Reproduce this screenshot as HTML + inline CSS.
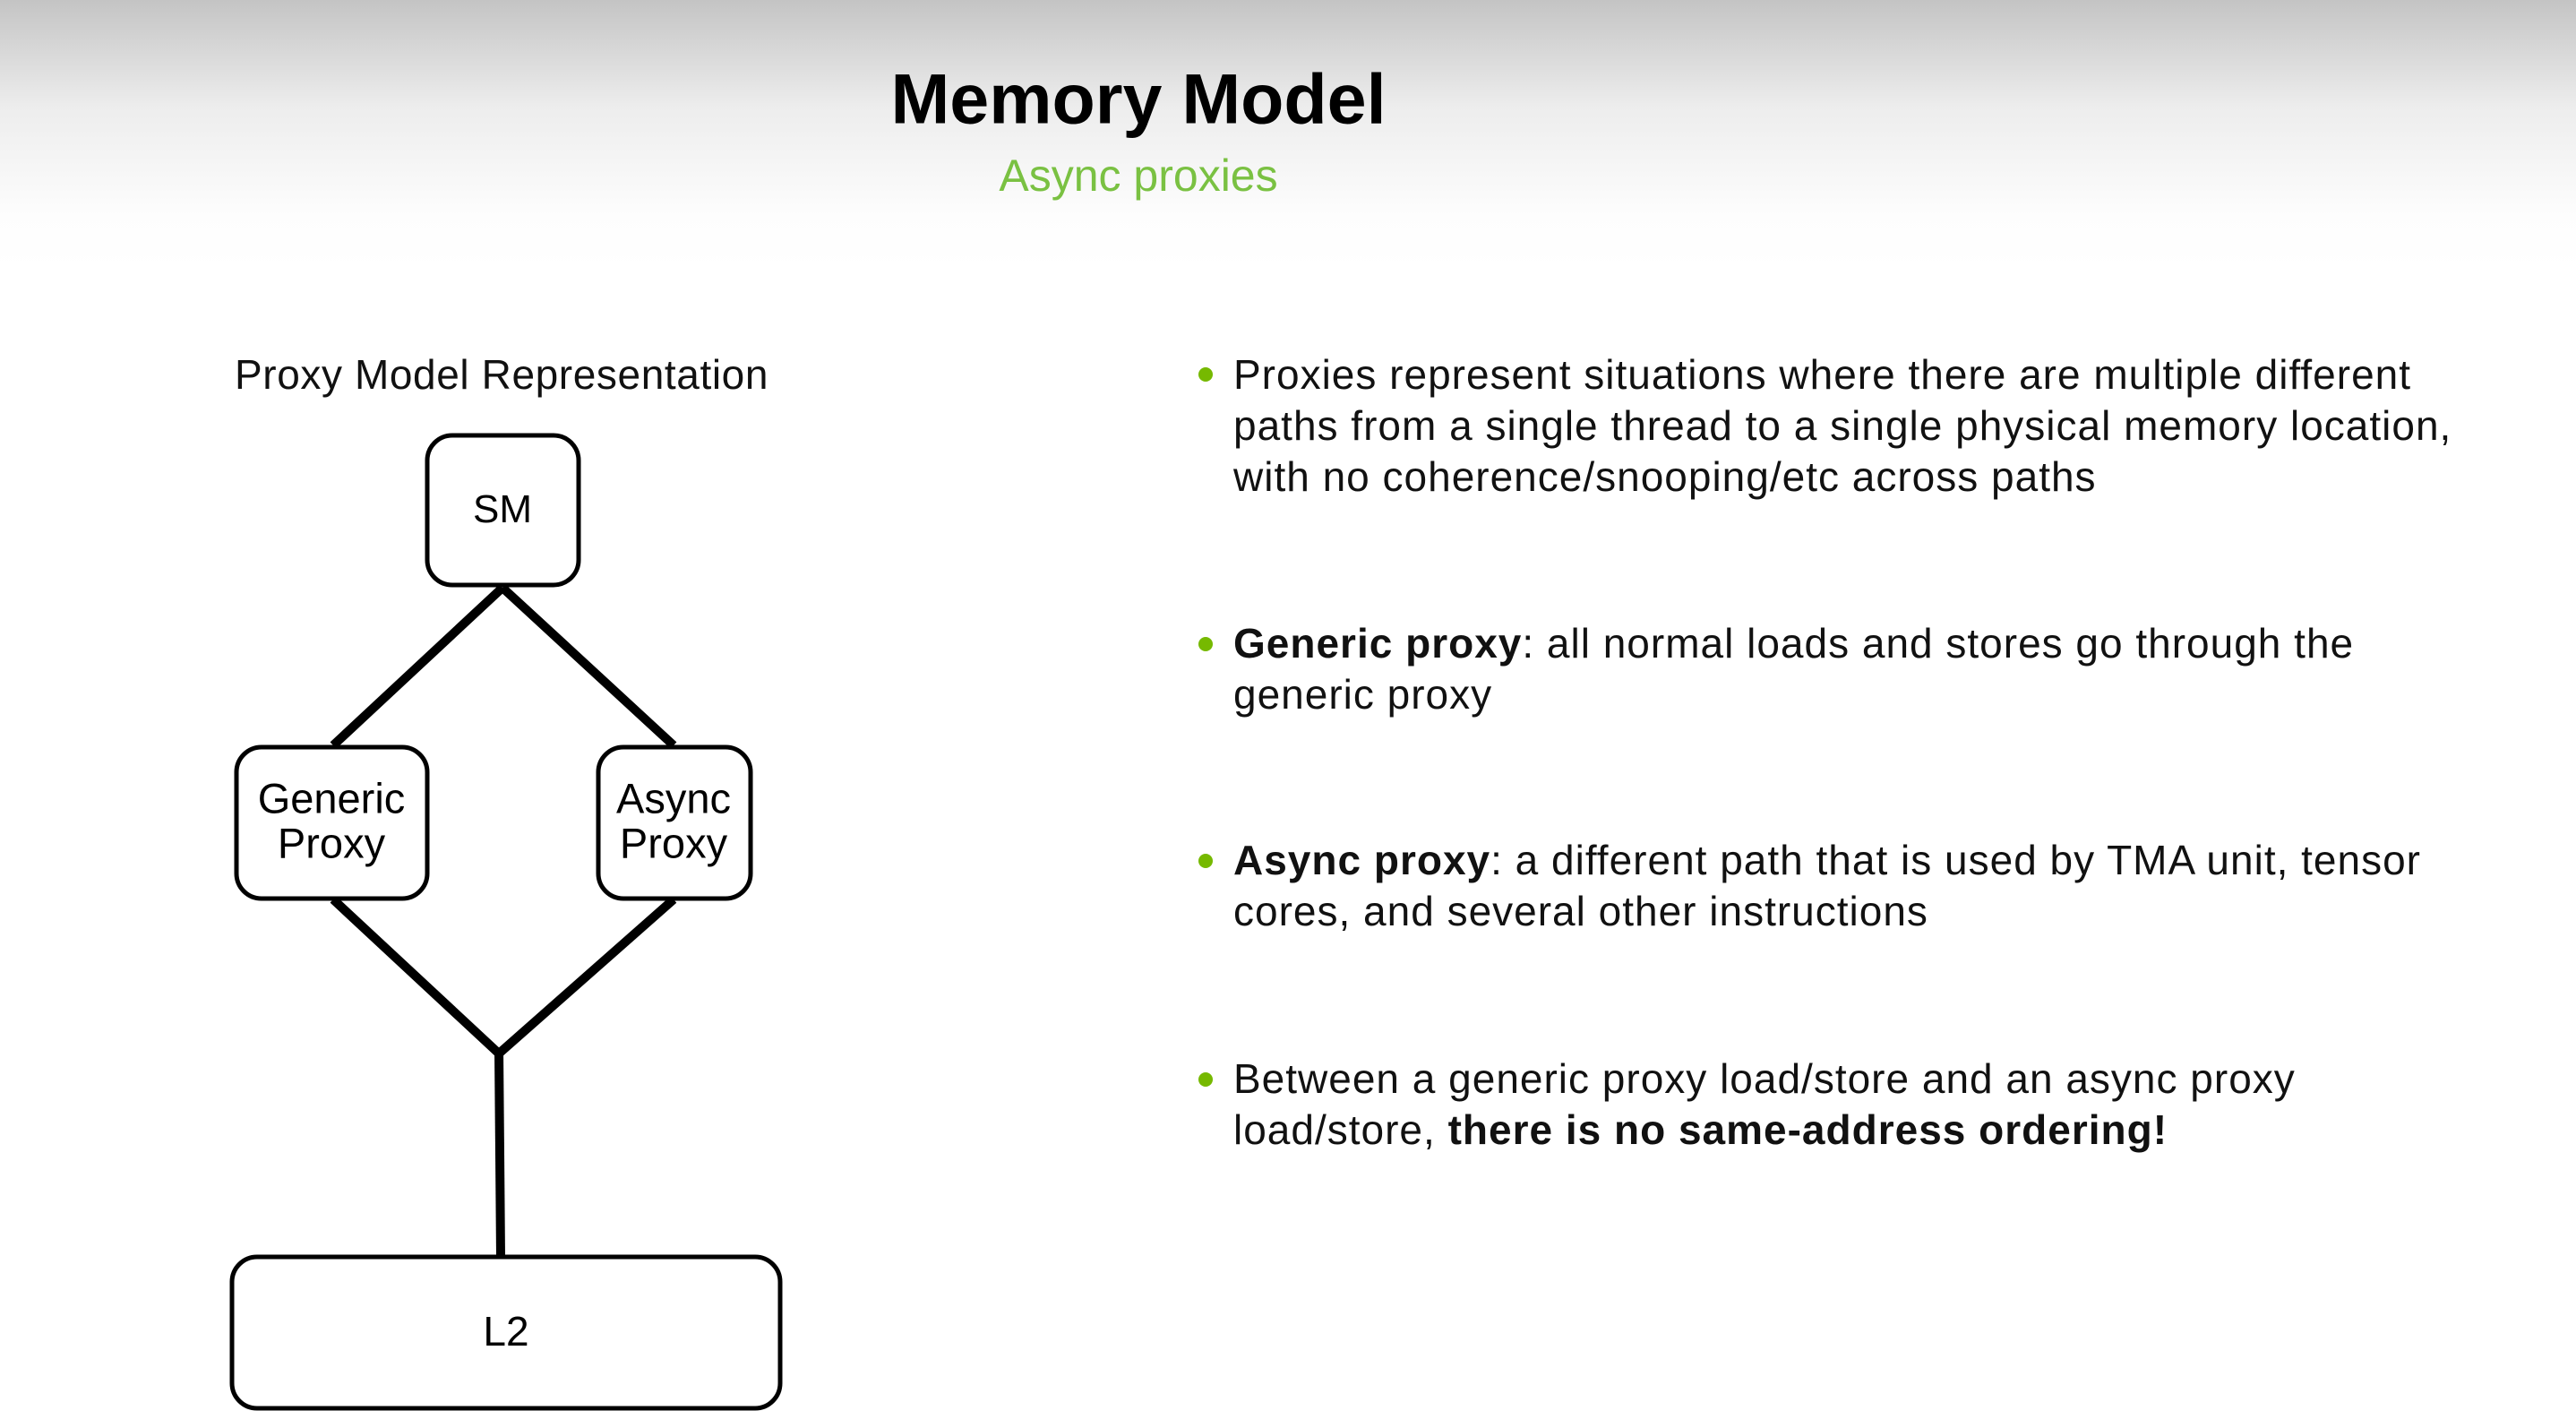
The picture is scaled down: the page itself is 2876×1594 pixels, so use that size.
<!DOCTYPE html>
<html><head><meta charset="utf-8"><style>
html,body{margin:0;padding:0}
body{width:2876px;height:1594px;position:relative;overflow:hidden;font-family:"Liberation Sans",sans-serif;color:#000;
background:linear-gradient(#c4c4c4 0px,#ededed 120px,#fdfdfd 240px,#fff 300px);}
.t{position:absolute;white-space:nowrap;line-height:1}
.c{transform:translate(-50%,-50%)}
.b{position:absolute;left:1377px;font-size:46px;letter-spacing:1px;line-height:57px;white-space:nowrap;color:#111}
.dot{position:absolute;left:1338px;width:16px;height:16px;border-radius:50%;background:#76b900}
</style></head><body>
<div class="t c" style="left:1271px;top:110px;font-size:79px;font-weight:bold">Memory Model</div>
<div class="t c" style="left:1271px;top:196px;font-size:50px;color:#7ac142">Async proxies</div>
<div class="t c" style="left:560px;top:418px;font-size:46px;letter-spacing:0.6px;color:#111">Proxy Model Representation</div>

<svg style="position:absolute;left:0;top:0" width="2876" height="1594">
<g stroke="#000" stroke-width="10" stroke-linecap="butt" fill="none">
<line x1="561" y1="656" x2="372" y2="832"/>
<line x1="561" y1="656" x2="752" y2="832"/>
<line x1="372" y1="1004" x2="557" y2="1176"/>
<line x1="752" y1="1004" x2="557" y2="1176"/>
<line x1="557" y1="1172" x2="559" y2="1403"/>
</g>
<g stroke="#000" stroke-width="5" fill="#fff">
<rect x="477" y="486" width="169" height="167" rx="28"/>
<rect x="264" y="834" width="213" height="169" rx="28"/>
<rect x="668" y="834" width="170" height="169" rx="28"/>
<rect x="259" y="1403" width="612" height="169" rx="28"/>
</g>
</svg>
<div class="t c" style="left:561px;top:569px;font-size:44px">SM</div>
<div class="t c" style="left:370px;top:891px;font-size:47px">Generic</div>
<div class="t c" style="left:370px;top:941px;font-size:47px">Proxy</div>
<div class="t c" style="left:752px;top:891px;font-size:47px">Async</div>
<div class="t c" style="left:752px;top:941px;font-size:47px">Proxy</div>
<div class="t c" style="left:565px;top:1486px;font-size:46px">L2</div>

<div class="dot" style="top:410px"></div>
<div class="b" style="top:390px">Proxies represent situations where there are multiple different<br>paths from a single thread to a single physical memory location,<br>with no coherence/snooping/etc across paths</div>
<div class="dot" style="top:711px"></div>
<div class="b" style="top:690px"><b>Generic proxy</b>: all normal loads and stores go through the<br>generic proxy</div>
<div class="dot" style="top:953px"></div>
<div class="b" style="top:932px"><b>Async proxy</b>: a different path that is used by TMA unit, tensor<br>cores, and several other instructions</div>
<div class="dot" style="top:1197px"></div>
<div class="b" style="top:1176px">Between a generic proxy load/store and an async proxy<br>load/store, <b>there is no same-address ordering!</b></div>
</body></html>
